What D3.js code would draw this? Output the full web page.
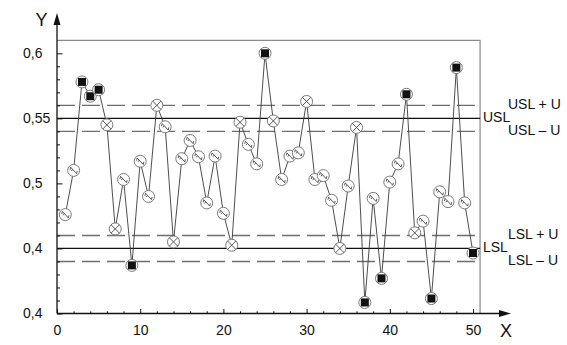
<!DOCTYPE html>
<html>
<head>
<meta charset="utf-8">
<script src="https://cdn.jsdelivr.net/npm/d3@7"></script>
<style>
  body { margin: 0; background: #fff; }
  svg { display: block; font-family: "Liberation Sans", Arial, sans-serif; }
</style>
</head>
<body>
<div class="chart"></div>
<script>
// measured values, sample 1..50
const values = [0.476, 0.510, 0.578, 0.567, 0.572, 0.545, 0.465, 0.503, 0.437, 0.517,
                0.490, 0.560, 0.5435, 0.455, 0.519, 0.533, 0.5205, 0.485, 0.521, 0.477,
                0.4525, 0.547, 0.530, 0.515, 0.600, 0.548, 0.503, 0.521, 0.5235, 0.563,
                0.503, 0.506, 0.487, 0.450, 0.498, 0.543, 0.4085, 0.4885, 0.427, 0.501,
                0.515, 0.5685, 0.462, 0.471, 0.4115, 0.4935, 0.486, 0.589, 0.485, 0.4465]

// n = conforming, u = in uncertainty zone, o = out of spec
const kinds = ['n','n','o','o','o','u','u','n','o','n',
               'n','u','n','u','n','n','n','n','n','n',
               'u','u','n','n','o','u','n','n','n','u',
               'n','n','n','u','n','u','o','n','o','n',
               'n','o','u','n','o','n','n','o','n','o']

const limitLines = [
    {name: 'USL + U', value: 0.56, dashed: true},
    {name: 'USL', value: 0.55, dashed: false},
    {name: 'USL – U', value: 0.54, dashed: true},
    {name: 'LSL + U', value: 0.46, dashed: true},
    {name: 'LSL', value: 0.45, dashed: false},
    {name: 'LSL – U', value: 0.44, dashed: true}
]

const xMajor = [0, 10, 20, 30, 40, 50]
const xMinor = [2, 4, 6, 8, 12, 14, 16, 18, 22, 24, 26, 28, 32, 34, 36, 38, 42, 44, 46, 48]
const yMajor = [0.4, 0.45, 0.5, 0.55, 0.6]
const yMajorLabels = ['0,4', '0,4', '0,5', '0,55', '0,6']
const yMinor = [0.41, 0.42, 0.43, 0.44, 0.46, 0.47, 0.48, 0.49, 0.51, 0.52, 0.53, 0.54,
                0.56, 0.57, 0.58, 0.59]

const width = 567, height = 345

const svg = d3.select('.chart')
    .append('svg')
    .attr('width', width)
    .attr('height', height)

const x = d3.scaleLinear()
    .domain([0, 50])
    .range([57, 473])

const y = d3.scaleLinear()
    .domain([0.4, 0.6])
    .range([313.5, 53.3])

const xRight = x(50.85)
const yTop = y(0.61)

// frame (top + right)
svg.append('path')
    .attr('d', `M${x(0)},${yTop} H${xRight} V${y(0.4)}`)
    .attr('fill', 'none')
    .attr('stroke', '#8a8a8a')
    .attr('stroke-width', 1.2)

// limit lines
svg.selectAll('.limit')
    .data(limitLines)
    .enter()
    .append('line')
    .attr('class', 'limit')
    .attr('x1', x(0))
    .attr('x2', xRight)
    .attr('y1', d => y(d.value))
    .attr('y2', d => y(d.value))
    .attr('stroke', d => d.dashed ? '#6e6e6e' : '#111')
    .attr('stroke-width', d => d.dashed ? 1.4 : 1.2)
    .attr('stroke-dasharray', d => d.dashed ? '18,7' : null)

svg.selectAll('.limitLabel')
    .data(limitLines)
    .enter()
    .append('text')
    .attr('class', 'limitLabel')
    .attr('x', d => d.dashed ? 508 : 483)
    .attr('y', d => y(d.value) + (d.dashed ? (d.value > 0.5 ? (d.value > 0.55 ? 0 : 0) : 0) : 0))
    .attr('dominant-baseline', 'middle')
    .attr('font-size', 14)
    .attr('fill', '#111')
    .text(d => d.name)

// axes
const xAxisMajor = d3.axisBottom(x).tickValues(xMajor).tickSize(-4.5).tickPadding(12)
const xAxisMinor = d3.axisBottom(x).tickValues(xMinor).tickSize(-2.2).tickFormat('')
const yAxisMajor = d3.axisLeft(y).tickValues(yMajor).tickSize(-5.5)
    .tickFormat((d, i) => yMajorLabels[i])
const yAxisMinor = d3.axisLeft(y).tickValues(yMinor).tickSize(-3).tickFormat('')

const gx = svg.append('g').attr('transform', `translate(0,${y(0.4)})`)
gx.append('g').call(xAxisMajor)
gx.append('g').call(xAxisMinor)
const gy = svg.append('g').attr('transform', `translate(${x(0)},0)`)
gy.append('g').call(yAxisMajor)
gy.append('g').call(yAxisMinor)

svg.selectAll('.domain').remove()
svg.selectAll('.tick line').attr('stroke', '#111')
gx.selectAll('text').attr('font-size', 14).attr('fill', '#111').attr('font-family', null)
gy.selectAll('text')
    .attr('font-size', 14)
    .attr('fill', '#111')
    .attr('font-family', null)
    .attr('text-anchor', 'start')
    .attr('x', 23 - x(0))

// axis lines with arrows
svg.append('line')
    .attr('x1', x(0)).attr('x2', 505)
    .attr('y1', y(0.4)).attr('y2', y(0.4))
    .attr('stroke', '#111').attr('stroke-width', 1.3)
svg.append('path')
    .attr('d', `M511,${y(0.4)} L499,${y(0.4) - 3.5} L499,${y(0.4) + 3.5} Z`)
    .attr('fill', '#111')
svg.append('line')
    .attr('x1', x(0)).attr('x2', x(0))
    .attr('y1', y(0.4)).attr('y2', 20)
    .attr('stroke', '#111').attr('stroke-width', 1.3)
svg.append('path')
    .attr('d', `M${x(0)},13 L${x(0) - 3.5},25 L${x(0) + 3.5},25 Z`)
    .attr('fill', '#111')

svg.append('text')
    .attr('x', 41.5).attr('y', 21)
    .attr('text-anchor', 'middle')
    .attr('dominant-baseline', 'middle')
    .attr('font-size', 18)
    .attr('fill', '#111')
    .text('Y')
svg.append('text')
    .attr('x', 506).attr('y', 332)
    .attr('text-anchor', 'middle')
    .attr('dominant-baseline', 'middle')
    .attr('font-size', 18)
    .attr('fill', '#111')
    .text('X')

// data line
const points = values.map((v, i) => ({n: i + 1, v: v, kind: kinds[i]}))

const line = d3.line()
    .x(d => x(d.n))
    .y(d => y(d.v))

svg.append('path')
    .datum(points)
    .attr('d', line)
    .attr('fill', 'none')
    .attr('stroke', '#3a3a3a')
    .attr('stroke-width', 0.9)

// markers
const marks = svg.selectAll('.mark')
    .data(points)
    .enter()
    .append('g')
    .attr('class', 'mark')
    .attr('transform', d => `translate(${x(d.n)},${y(d.v)})`)

marks.append('circle')
    .attr('r', 6)
    .attr('fill', '#fff')
    .attr('stroke', '#7a7a7a')
    .attr('stroke-width', 1)

marks.filter(d => d.kind === 'o')
    .append('rect')
    .attr('x', -4).attr('y', -4)
    .attr('width', 8).attr('height', 8)
    .attr('fill', '#111')

marks.filter(d => d.kind === 'u')
    .append('path')
    .attr('d', 'M-4.2,-4.2L4.2,4.2M-4.2,4.2L4.2,-4.2')
    .attr('stroke', '#444')
    .attr('stroke-width', 0.9)

marks.filter(d => d.kind === 'n')
    .append('path')
    .attr('d', 'M-3,-3.2L3,3.2M-3,-3.2L-3.6,-0.6M3,3.2L3.6,0.6M-1,-1L-2.2,0.6')
    .attr('fill', 'none')
    .attr('stroke', '#444')
    .attr('stroke-width', 0.9)
</script>
</body>
</html>
